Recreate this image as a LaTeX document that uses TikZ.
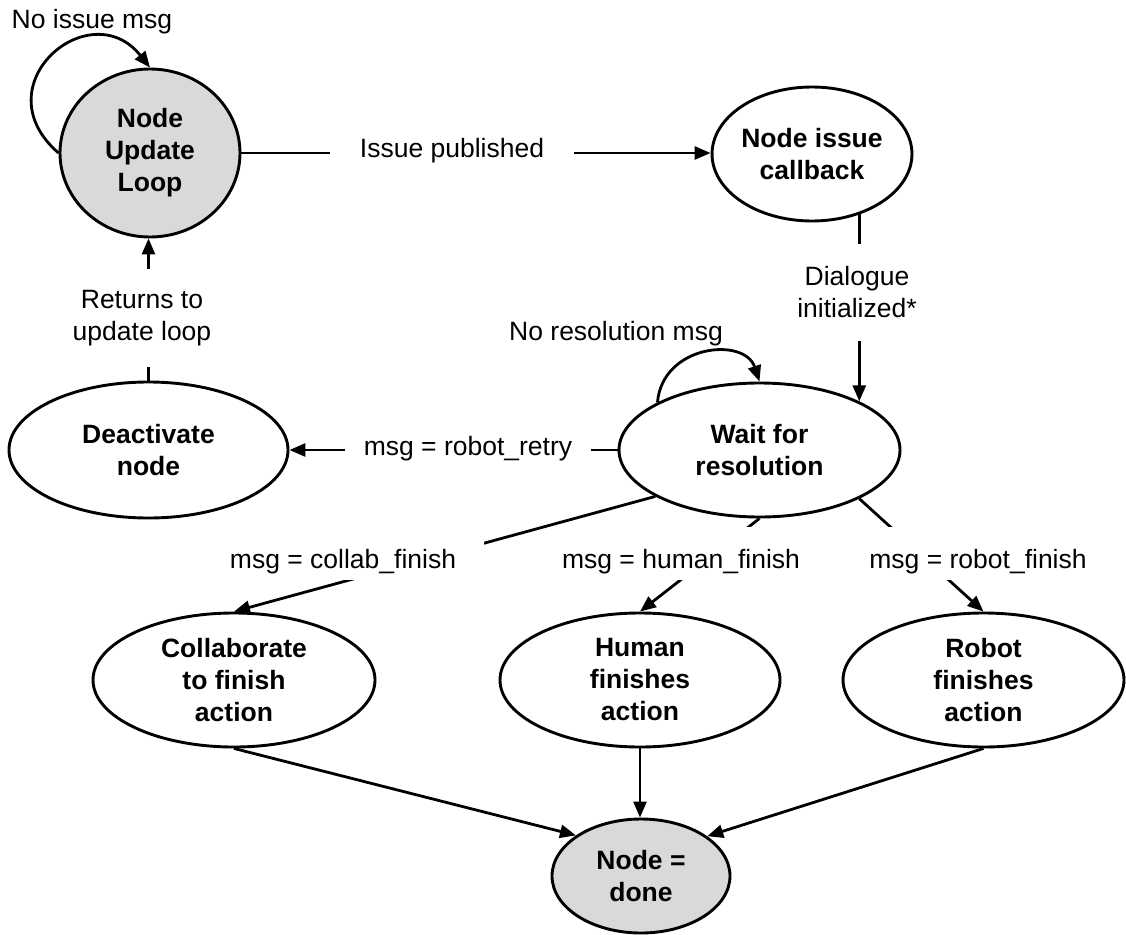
\documentclass[tikz,border=0pt]{standalone}
\usepackage{fontspec}
\setmainfont{Liberation Sans}
\usetikzlibrary{shapes.geometric,arrows.meta}
\pgfdeclarelayer{bg}
\pgfsetlayers{bg,main}
\definecolor{statefill}{RGB}{217,217,217}
\begin{document}
\begin{tikzpicture}[x=1pt,y=-1pt,
  font=\fontsize{26.5pt}{32pt}\selectfont,
  state/.style={ellipse, draw, line width=2.9pt, fill=white, inner sep=0pt,
    align=center, font=\fontsize{26.5pt}{32pt}\selectfont\bfseries},
  endstate/.style={state, fill=statefill},
  lbl/.style={align=center, inner sep=0pt},
  gaplbl/.style={lbl, fill=white},
  msgbox/.style={gaplbl, anchor=base, text height=35pt, text depth=6pt,
    inner ysep=6pt, inner xsep=28pt},
  arr/.style={line width=2.8pt, -{Triangle[length=16pt,width=13pt]}}]

\useasboundingbox (0,0) rectangle (1126,934);

% states
\node[endstate, minimum width=180pt, minimum height=168pt] (nul) at (150,153) {Node\\Update\\Loop};
\node[state, minimum width=192pt, minimum height=134pt] (cb) at (812,154) {Node issue\\callback};
\node[state, minimum width=281pt, minimum height=134pt] (wr) at (759.5,450) {Wait for\\resolution};
\node[state, minimum width=279pt, minimum height=136pt] (dn) at (148.5,450) {Deactivate\\node};
\node[state, minimum width=282pt, minimum height=134pt] (co) at (234,680) {Collaborate\\to finish\\action};
\node[state, minimum width=280pt, minimum height=134pt] (hu) at (640,680) {Human\\finishes\\action};
\node[state, minimum width=281pt, minimum height=134pt] (ro) at (983.5,680) {Robot\\finishes\\action};
\node[endstate, minimum width=178pt, minimum height=114pt] (done) at (641,876) {Node =\\done};

% transition labels
\node[lbl, anchor=base] (lnoissue) at (92,29) {No issue msg};
\node[gaplbl, anchor=base, inner xsep=30pt] (lissue) at (452,157) {Issue published};
\node[gaplbl, inner ysep=23pt] (ldialog) at (857,292.3) {Dialogue\\initialized*};
\node[gaplbl, inner ysep=21pt] (lreturn) at (142,318.3) {Returns to\\update loop};
\node[lbl, anchor=base] (lnores) at (616,340) {No resolution msg};
\node[gaplbl, anchor=base, inner xsep=19pt] (lretry) at (468,455) {msg = robot\_retry};
\node[msgbox] (lcollab) at (343,568) {msg = collab\_finish};
\node[msgbox, inner xsep=10pt] (lhuman) at (681,568) {msg = human\_finish};
\node[msgbox] (lrobot) at (978,568) {msg = robot\_finish};

% transitions, kept behind states and labels
\begin{pgfonlayer}{bg}
\draw[arr] (nul.west) .. controls (-20,85) and (90,-8) .. (nul.north);
\draw[arr] (nul.east) -- (cb.west |- nul.east);
\draw[arr] (cb.center -| wr.26.3) -- (wr.26.3);
\draw[arr] (dn.north) -- (dn.north |- nul.south);
\draw[arr] (wr.west) -- (dn.east);
\draw[arr] (wr.155) .. controls +(5,-58) and +(-15,-45) .. (wr.north);
\draw[arr] (wr.204.5) -- (co.north);
\draw[arr] (wr.south) -- (hu.north);
\draw[arr] (wr.-26) -- (ro.north);
\draw[arr] (co.south) -- (done.148.6);
\draw[arr] (hu.south) -- (hu.south |- done.north);
\draw[arr] (ro.south) -- (done.31.8);
\end{pgfonlayer}
\end{tikzpicture}
\end{document}
